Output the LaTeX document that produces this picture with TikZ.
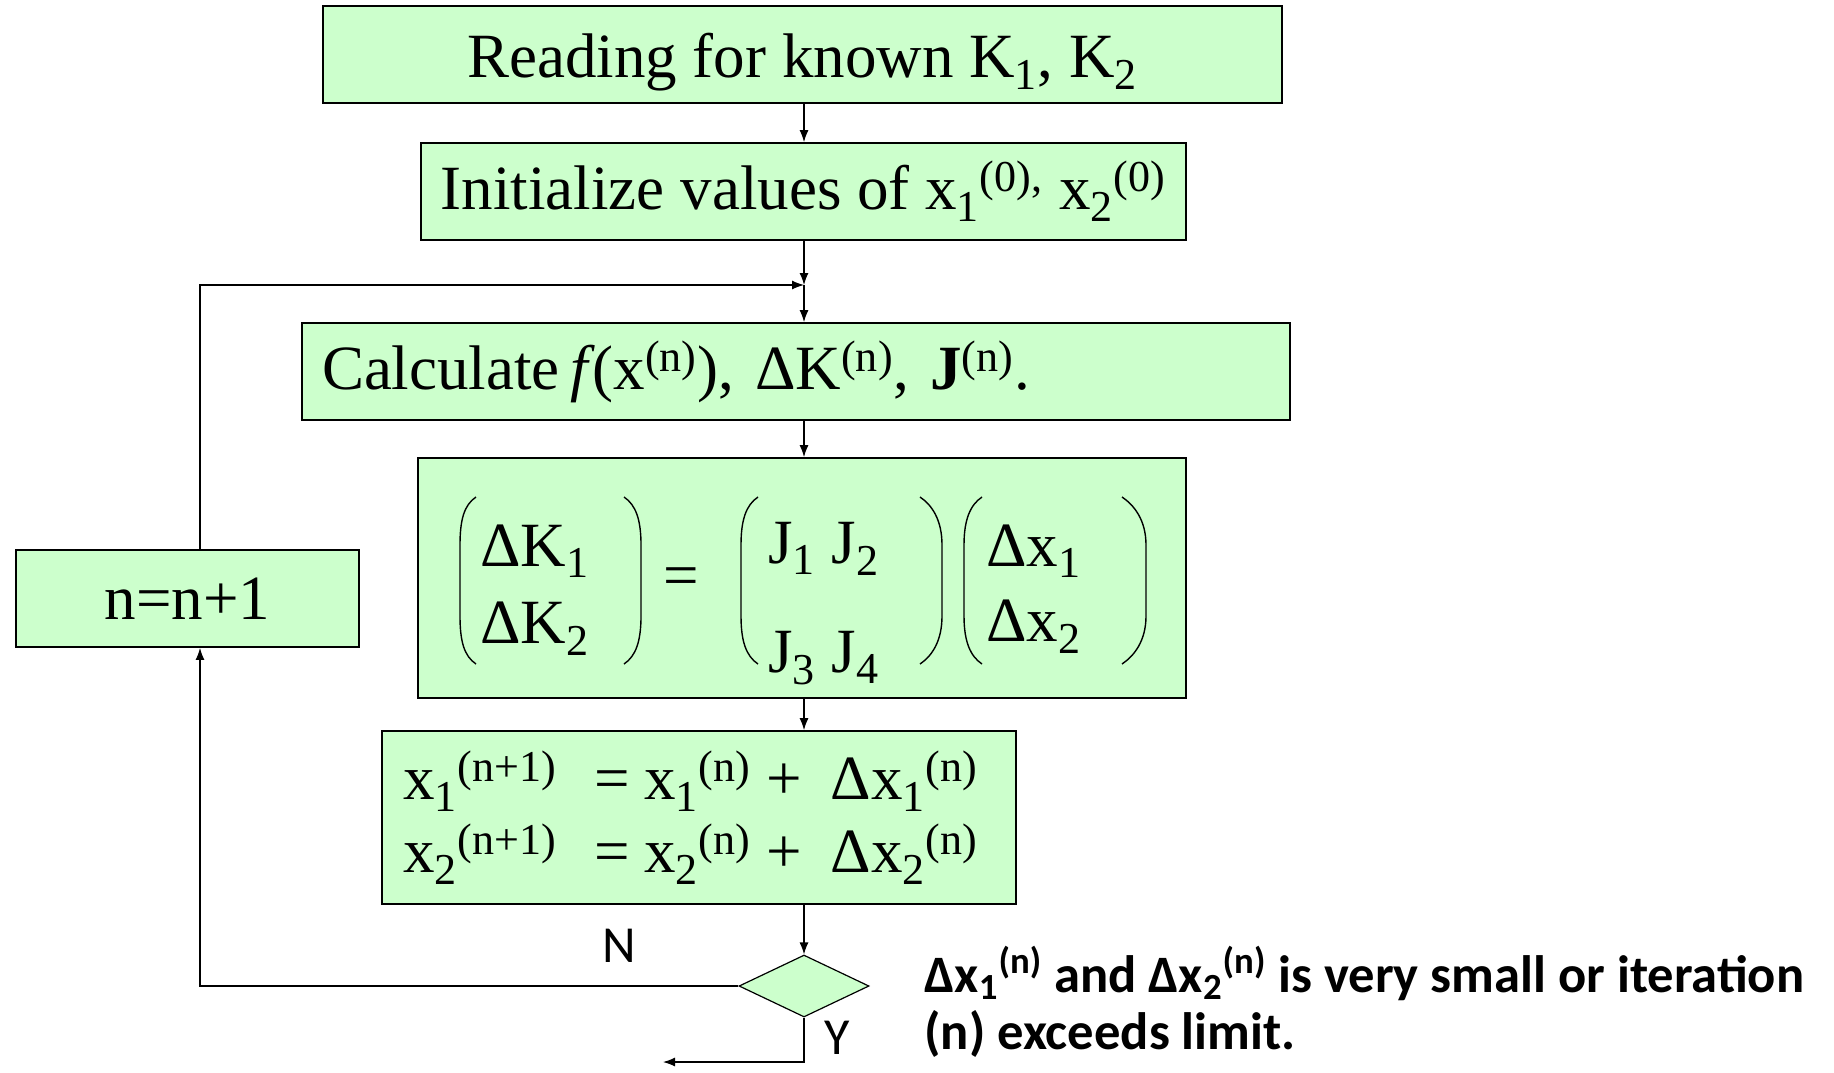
\documentclass[tikz,border=0pt]{standalone}
\usepackage{fontspec}
\setmainfont{Liberation Serif}
\newfontfamily\labelfont{Carlito}
\usetikzlibrary{shapes.geometric,arrows.meta}
\definecolor{boxgreen}{RGB}{204,255,204}

\begin{document}
\begin{tikzpicture}[
        x=0.5pt, y=-0.5pt,
        stepbox/.style={
            rectangle,
            draw=black,
            fill=boxgreen,
            line width=0.9pt,
            inner sep=0pt,
            minimum height=48.5pt,
            font=\fontsize{31.5}{36.5}\selectfont
        },
        mathtext/.style={inner sep=0pt, anchor=base west, font=\fontsize{31.5}{36.5}\selectfont},
        paren/.style={line width=0.7pt},
        arr/.style={-{Latex[length=6pt,width=4.5pt]}, line width=0.6pt},
        yn/.style={inner sep=0pt, font=\labelfont\fontsize{26}{28}\selectfont}
    ]
    \useasboundingbox (0,0) rectangle (1834,1072);

    % Cajas
    \node[stepbox, minimum width=479.5pt, text height=27pt, text depth=4.2pt] (read) at (802.5,54.5)
        {Reading for known K\textsubscript{1}, K\textsubscript{2}};
    \node[stepbox, minimum width=382.5pt] (init) at (803.5,191.5)
        {Initialize values of x\textsubscript{1}\textsuperscript{(0),} x\textsubscript{2}\textsuperscript{(0)}};
    \node[stepbox, text width=474pt, inner xsep=10pt, align=left] (calc) at (796,371.5)
        {Calculate\hspace{5.5pt}\textit{f}\kern-1.5pt(x\textsuperscript{(n)}), ΔK\textsuperscript{(n)}, \textbf{J}\textsuperscript{(n)}.};
    \node[stepbox, minimum width=384pt, minimum height=120pt] (solve) at (802,578) {};
    \node[stepbox, text width=296pt, inner xsep=10.5pt, minimum height=86.5pt, align=left] (update) at (699,817.5)
        {\mbox{x\textsubscript{1}\textsuperscript{(n+1)}\hspace{19pt}=\hspace{7pt}x\textsubscript{1}\textsuperscript{(n)}\hspace{7.5pt}+\hspace{14.5pt}Δx\textsubscript{1}\textsuperscript{(n)}}\\
         \mbox{x\textsubscript{2}\textsuperscript{(n+1)}\hspace{19pt}=\hspace{7pt}x\textsubscript{2}\textsuperscript{(n)}\hspace{7.5pt}+\hspace{14.5pt}Δx\textsubscript{2}\textsuperscript{(n)}}};
    \node[stepbox, minimum width=171.5pt] (incr) at (187.5,598.5) {n=n+1};
    \node[diamond, draw=black, fill=boxgreen, line width=0.6pt, inner sep=0pt,
          aspect=2.1, minimum width=65pt, minimum height=31pt] (check) at (804,986) {};

    % Sistema lineal
    \node[mathtext] (dk1) at (480,566) {ΔK\textsubscript{1}};
    \node[mathtext] (dk2) at (480,643) {ΔK\textsubscript{2}};
    \node[mathtext, anchor=base] (eq) at (681,596) {=};
    \node[mathtext] (j12) at (768,563) {J\textsubscript{1} J\textsubscript{2}};
    \node[mathtext] (j34) at (768,672) {J\textsubscript{3} J\textsubscript{4}};
    \node[mathtext] (dx1) at (986,566) {Δx\textsubscript{1}};
    \node[mathtext] (dx2) at (986,641) {Δx\textsubscript{2}};

    \draw[paren] (476,497) .. controls (464,505) and (460,520) .. (460,545) -- (460,616) .. controls (460,641) and (464,656) .. (476,664);
    \draw[paren] (624,497) .. controls (636,505) and (641,520) .. (641,545) -- (641,616) .. controls (641,641) and (636,656) .. (624,664);
    \draw[paren] (758,497) .. controls (746,505) and (741,520) .. (741,545) -- (741,616) .. controls (741,641) and (746,656) .. (758,664);
    \draw[paren] (920,497) .. controls (932,505) and (942,520) .. (942,545) -- (942,616) .. controls (942,641) and (932,656) .. (920,664);
    \draw[paren] (982,497) .. controls (970,505) and (964,520) .. (964,545) -- (964,616) .. controls (964,641) and (970,656) .. (982,664);
    \draw[paren] (1122,497) .. controls (1134,505) and (1146,520) .. (1146,545) -- (1146,616) .. controls (1146,641) and (1134,656) .. (1122,664);

    % Textos
    \node[yn] (no) at (619,946) {N};
    \node[yn] (yes) at (837,1038) {Y};
    \node[inner sep=0pt, anchor=base west, align=left,
          font=\labelfont\bfseries\fontsize{26.3}{28.5}\selectfont] (stop) at (924,1049)
        {Δx\textsubscript{1}\textsuperscript{(n)} and Δx\textsubscript{2}\textsuperscript{(n)} is very small or iteration\\(n) exceeds limit.};

    % Conexiones
    \coordinate (join) at (804,285);
    \coordinate (loop) at (200,285);
    \coordinate (exit) at (663,1062);

    \draw[arr] (read.south -| join) -- (init.north -| join);
    \draw[arr] (init.south -| join) -- (join);
    \draw[arr] (incr.north -| loop) -- (loop) -- (join);
    \draw[arr] (join) -- (calc.north -| join);
    \draw[arr] (calc.south -| join) -- (solve.north -| join);
    \draw[arr] (solve.south -| join) -- (update.north -| join);
    \draw[arr] (update.south -| join) -- (check.north);
    \draw[arr] (check.west) -| (incr.south -| loop);
    \draw[arr] (check.south) |- (exit);

\end{tikzpicture}
\end{document}
